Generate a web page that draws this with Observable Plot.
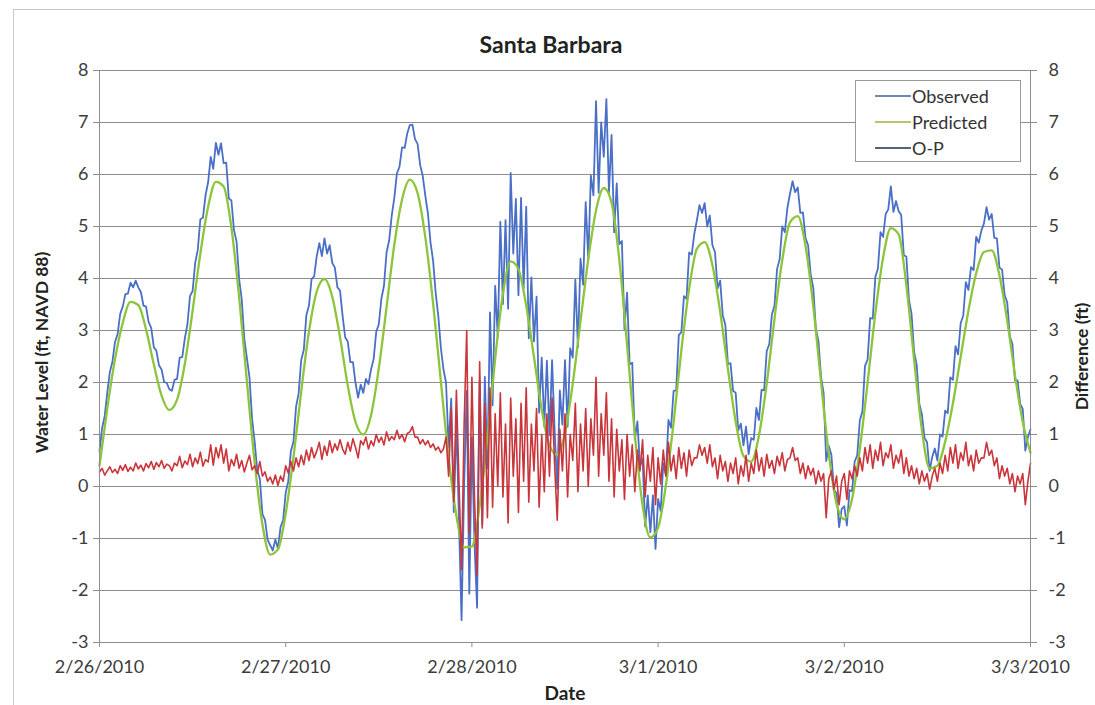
<!DOCTYPE html>
<html>
<head>
<meta charset="utf-8">
<script src="https://cdn.jsdelivr.net/npm/d3@7"></script>
<script src="https://cdn.jsdelivr.net/npm/@observablehq/plot@0.6"></script>
<style>
  html, body { margin: 0; padding: 0; background: #ffffff; }
  #wrap { position: relative; width: 1095px; height: 705px; overflow: hidden; font-family: Lato, "Open Sans", sans-serif; }
  #border { position: absolute; left: 13px; top: 9px; width: 1090px; height: 710px; border: 1px solid #c8c8c8; box-sizing: border-box; pointer-events: none; }
  #legend { position: absolute; left: 855px; top: 80px; width: 166px; height: 82px; background: #fff; border: 1px solid #9a9a9a; box-sizing: border-box; font-size: 18px; color: #333; }
  .item { position: absolute; left: 19px; height: 22px; display: flex; align-items: center; }
  .item svg { margin-right: 1px; }
</style>
</head>
<body>
<div id="wrap">
  <div id="chart"></div>
  <div id="border"></div>
  <div id="legend"></div>
</div>
<script>
// ---- Data ----
// Predicted tide, hourly from 2/26/2010 00:00
const predicted = [
  0.40,1.50,2.45,3.15,3.55,3.49,3.02,2.35,1.75,1.47,
  1.67,2.36,3.38,4.48,5.38,5.86,5.77,4.98,3.64,2.02,
  0.46,-0.73,-1.31,-1.21,-0.52,0.56,1.83,2.98,3.75,3.99,
  3.65,2.87,1.94,1.24,1.00,1.37,2.27,3.45,4.65,5.52,
  5.90,5.64,4.79,3.52,2.02,0.56,-0.56,-1.17,-1.15,-0.37,
  0.95,2.46,3.71,4.33,4.18,3.48,2.49,1.48,0.79,0.61,
  1.03,1.98,3.18,4.37,5.31,5.74,5.46,4.36,2.73,1.00,
  -0.36,-0.98,-0.79,0.02,1.24,2.62,3.80,4.57,4.70,4.26,
  3.36,2.26,1.25,0.59,0.48,0.98,1.98,3.22,4.35,5.08,
  5.20,4.63,3.47,2.01,0.63,-0.33,-0.63,-0.24,0.72,1.99,
  3.33,4.40,4.97,4.85,3.87,2.44,1.09,0.35,0.40,0.86,
  1.60,2.49,3.38,4.10,4.51,4.54,4.06,3.19,2.14,1.24,
  0.65
];
// Observed water level, every 20 minutes from 2/26/2010 00:00
const observed = [
  0.68,1.12,1.35, 1.80,2.20,2.40, 2.78,2.93,3.32, 3.46,3.70,3.71,
  3.92,3.83,3.96, 3.83,3.74,3.48, 3.46,3.16,3.05, 2.68,2.61,2.33,
  2.25,2.01,1.99, 1.87,1.84,2.05, 2.07,2.48,2.49, 2.85,3.12,3.66,
  3.76,4.30,4.55, 5.14,5.17,5.60, 5.85,6.34,6.11, 6.61,6.38,6.60,
  6.22,6.23,5.54, 5.50,4.93,4.71, 3.99,3.60,2.84, 2.47,2.10,1.30,
  0.86,0.31,0.15, -0.53,-0.64,-1.02, -1.13,-1.23,-1.02, -1.19,-0.78,-0.65,
  -0.12,0.10,0.68, 0.86,1.53,1.79, 2.43,2.63,3.30, 3.48,3.99,4.04,
  4.43,4.68,4.43, 4.77,4.48,4.64, 4.30,4.21,3.83, 3.77,3.28,2.87,
  2.79,2.39,2.39, 1.99,1.71,1.96, 1.80,2.07,1.97, 2.25,2.45,2.97,
  3.12,3.61,3.86, 4.50,4.73,5.21, 5.55,6.02,6.15, 6.52,6.51,6.79,
  6.95,6.96,6.68, 6.59,6.18,5.97, 5.59,5.25,4.69, 4.34,3.72,3.28,
  2.67,2.25,2.00, 0.76,1.69,-0.49, 1.29,-0.66,-2.57, 0.03,1.84,-2.06,
  0.95,-1.09,-2.33, 2.03,-0.73,2.11, 0.35,3.35,1.56, 3.86,2.88,5.09,
  3.51,5.12,3.42, 6.03,4.48,5.53, 3.68,5.55,3.81, 5.38,2.85,4.02,
  2.79,3.65,1.42, 2.48,1.15,2.42, 0.99,2.43,1.07, -0.04,1.85,1.19,
  2.43,1.15,2.66, 2.48,3.98,2.68, 4.38,3.88,5.47, 4.37,5.98,5.60,
  7.41,5.65,7.00, 6.34,7.45,5.65, 6.76,4.89,5.83, 4.66,4.72,3.02,
  3.73,2.35,2.38, 0.90,1.25,0.39, 0.54,-0.77,-0.17, -0.88,-0.17,-1.20,
  -0.24,-0.47,0.45, 0.22,1.28,1.13, 1.84,1.85,2.91, 2.97,3.66,3.61,
  4.50,4.46,4.86, 5.12,5.41,5.26, 5.45,5.00,5.21, 4.64,4.51,3.81,
  3.96,3.29,3.11, 2.36,2.37,1.84, 1.80,1.08,1.21, 0.79,1.15,0.62,
  0.93,0.90,1.51, 1.28,1.86,1.85, 2.60,2.74,3.31, 3.47,4.18,4.37,
  5.00,4.89,5.36, 5.63,5.87,5.66, 5.75,5.26,5.27, 4.78,4.64,4.08,
  3.82,3.03,2.80, 2.11,1.80,0.49, 0.78,0.61,-0.06, -0.13,-0.78,-0.43,
  -0.38,-0.75,-0.07, -0.09,0.48,0.60, 1.27,1.44,2.32, 2.44,3.24,3.23,
  4.03,4.19,4.89, 4.80,5.24,5.33, 5.77,5.28,5.49, 5.30,5.22,4.45,
  4.42,3.59,3.32, 2.59,2.34,1.59, 1.39,0.94,0.85, 0.30,0.57,0.73,
  0.50,1.00,0.96, 1.46,1.41,2.10, 2.05,2.70,2.54, 3.14,3.29,3.93,
  3.78,4.22,4.16, 4.80,4.69,4.92, 5.06,5.37,5.13, 5.24,4.78,4.77,
  4.21,4.17,3.68, 3.54,2.89,2.74, 2.04,2.04,1.59, 1.49,0.69,0.95,
  1.10
];
// Observed minus predicted, every 20 minutes
const diffOP = [
  0.28,0.35,0.22, 0.30,0.38,0.27, 0.33,0.25,0.40, 0.31,0.42,0.29,
  0.37,0.30,0.45, 0.34,0.41,0.30, 0.44,0.36,0.48, 0.33,0.46,0.38,
  0.50,0.35,0.43, 0.40,0.30,0.45, 0.40,0.58,0.36, 0.49,0.42,0.62,
  0.38,0.55,0.44, 0.66,0.39,0.52, 0.47,0.80,0.41, 0.75,0.55,0.80,
  0.45,0.72,0.30, 0.52,0.40,0.62, 0.35,0.50,0.28, 0.45,0.60,0.32,
  0.40,0.25,0.48, 0.20,0.28,0.10, 0.18,0.05,0.22, 0.02,0.20,0.10,
  0.40,0.26,0.48, 0.30,0.55,0.38, 0.60,0.42,0.70, 0.50,0.75,0.55,
  0.68,0.85,0.52, 0.78,0.60,0.88, 0.65,0.82,0.70, 0.90,0.72,0.62,
  0.85,0.68,0.92, 0.75,0.55,0.88, 0.80,0.95,0.72, 0.88,0.78,1.00,
  0.85,0.95,0.80, 1.05,0.88,0.96, 0.90,1.08,0.92, 1.00,0.86,1.02,
  1.05,1.15,0.95, 0.95,0.82,0.90, 0.80,0.88,0.75, 0.82,0.70,0.76,
  0.65,0.72,0.95, 0.20,1.50,-0.30, 1.85,0.10,-1.60, 1.20,3.00,-0.90,
  2.10,-0.20,-1.70, 2.40,-0.80,1.60, -0.60,1.90,-0.40, 1.40,0.00,1.80,
  -0.20,1.20,-0.70, 1.70,0.20,1.30, -0.50,1.60,0.10, 1.90,-0.30,1.20,
  0.30,1.50,-0.40, 1.00,-0.10,1.40, 0.20,1.70,0.40, -0.65,1.10,0.30,
  1.40,-0.20,1.00, 0.50,1.60,-0.10, 1.20,0.30,1.50, 0.00,1.30,0.60,
  2.10,0.20,1.40, 0.60,1.80,0.10, 1.30,-0.20,1.10, 0.30,0.90,-0.25,
  1.00,0.20,0.80, -0.10,0.70,0.30, 0.90,-0.20,0.60, 0.10,0.75,-0.35,
  0.55,0.05,0.70, 0.20,0.85,0.30, 0.60,0.15,0.75, 0.35,0.65,0.20,
  0.70,0.40,0.55, 0.55,0.80,0.60, 0.75,0.45,0.80, 0.38,0.55,0.15,
  0.60,0.30,0.48, 0.10,0.45,0.25, 0.55,0.05,0.40, 0.20,0.60,0.10,
  0.45,0.25,0.70, 0.30,0.55,0.20, 0.62,0.35,0.50, 0.25,0.58,0.40,
  0.65,0.30,0.52, 0.55,0.75,0.50, 0.55,0.25,0.45, 0.15,0.40,0.22,
  0.35,0.05,0.30, 0.10,0.25,-0.60, 0.15,0.30,-0.05, 0.20,-0.35,0.10,
  0.25,-0.25,0.30, 0.15,0.40,0.20, 0.55,0.30,0.75, 0.45,0.80,0.35,
  0.70,0.50,0.85, 0.40,0.65,0.55, 0.80,0.35,0.60, 0.45,0.70,0.25,
  0.55,0.20,0.40, 0.15,0.35,0.05, 0.30,0.10,0.25, -0.05,0.20,0.35,
  0.10,0.45,0.25, 0.60,0.30,0.75, 0.45,0.80,0.35, 0.65,0.50,0.85,
  0.40,0.60,0.30, 0.70,0.45,0.55, 0.55,0.85,0.60, 0.70,0.40,0.55,
  0.15,0.40,0.20, 0.35,0.05,0.25, -0.10,0.20,0.05, 0.25,-0.35,0.10,
  0.45
];
const xTickLabels = ["2/26/2010", "2/27/2010", "2/28/2010", "3/1/2010", "3/2/2010", "3/3/2010"];
const yTicks = [-3, -2, -1, 0, 1, 2, 3, 4, 5, 6, 7, 8];
const seriesNames = ["Observed", "Predicted", "O-P"];
const title = "Santa Barbara";
const yLabelLeft = "Water Level (ft, NAVD 88)";
const yLabelRight = "Difference (ft)";
const xLabel = "Date";

// ---- Build tables ----
const start = Date.UTC(2010, 1, 26);
const HOUR = 3600 * 1000;
const DAY = 24 * HOUR;
const predRows = predicted.map((v, i) => ({t: new Date(start + i * HOUR), v}));
const obsRows = observed.map((v, i) => ({t: new Date(start + i * HOUR / 3), v}));
const opRows = diffOP.map((v, i) => ({t: new Date(start + i * HOUR / 3), v}));
const xTicks = xTickLabels.map((_, i) => new Date(start + i * DAY));
const xLabelOf = new Map(xTicks.map((d, i) => [+d, xTickLabels[i]]));

const colors = {Observed: "#4a6fc6", Predicted: "#8cc43a", "O-P": "#c9353a"};
const legendColors = {Observed: "#7388b4", Predicted: "#b7c470", "O-P": "#56627c"};
const gridColor = "#8e8e8e";
const textColor = "#3c3c3c";

const chart = Plot.plot({
  width: 1095,
  height: 705,
  marginLeft: 99,
  marginRight: 65,
  marginTop: 70,
  marginBottom: 63,
  style: {fontFamily: "Lato, 'Open Sans', sans-serif", fontSize: "18px", background: "transparent", color: textColor},
  x: {type: "utc", domain: [new Date(start), new Date(start + 5 * DAY)]},
  y: {domain: [-3, 8]},
  marks: [
    Plot.gridY(yTicks, {stroke: gridColor, strokeOpacity: 1}),
    Plot.line(obsRows, {x: "t", y: "v", stroke: colors.Observed, strokeWidth: 1.8}),
    Plot.line(predRows, {x: "t", y: "v", stroke: colors.Predicted, strokeWidth: 2.3, curve: "monotone-x"}),
    Plot.line(opRows, {x: "t", y: "v", stroke: colors["O-P"], strokeWidth: 1.6}),
    Plot.frame({stroke: gridColor}),
    Plot.axisY(yTicks, {anchor: "left", tickSize: 6, tickPadding: 5, stroke: gridColor, fill: textColor, fontSize: 18, tickFormat: d => String(d), label: null}),
    Plot.axisY(yTicks, {anchor: "right", tickSize: 6, tickPadding: 12, stroke: gridColor, fill: textColor, fontSize: 18, tickFormat: d => String(d), label: null}),
    Plot.axisX(xTicks, {anchor: "bottom", tickSize: 5, tickPadding: 13, stroke: gridColor, fill: textColor, fontSize: 18, tickFormat: d => xLabelOf.get(+d), label: null}),
    Plot.text([title], {frameAnchor: "top", dx: -14, dy: -25, lineAnchor: "middle", textAnchor: "middle", fontWeight: "bold", fontSize: 23, fill: "#222"}),
    Plot.text([xLabel], {frameAnchor: "bottom", dy: 51, lineAnchor: "middle", textAnchor: "middle", fontWeight: "bold", fontSize: 19, fill: "#222"}),
    Plot.text([yLabelLeft], {frameAnchor: "left", dx: -57, dy: -4, rotate: -90, lineAnchor: "middle", textAnchor: "middle", fontWeight: "bold", fontSize: 17.5, fill: "#222"}),
    Plot.text([yLabelRight], {frameAnchor: "right", dx: 52, rotate: -90, lineAnchor: "middle", textAnchor: "middle", fontWeight: "bold", fontSize: 17.5, fill: "#222"})
  ]
});
document.getElementById("chart").appendChild(chart);

// ---- Legend ----
const legend = document.getElementById("legend");
seriesNames.forEach((name, i) => {
  const item = document.createElement("div");
  item.className = "item";
  item.style.top = (4 + i * 26) + "px";
  item.innerHTML = `<svg width="36" height="4"><line x1="0" y1="2" x2="36" y2="2" stroke="${legendColors[name]}" stroke-width="2"/></svg><span></span>`;
  item.querySelector("span").textContent = name;
  legend.appendChild(item);
});
</script>
</body>
</html>
